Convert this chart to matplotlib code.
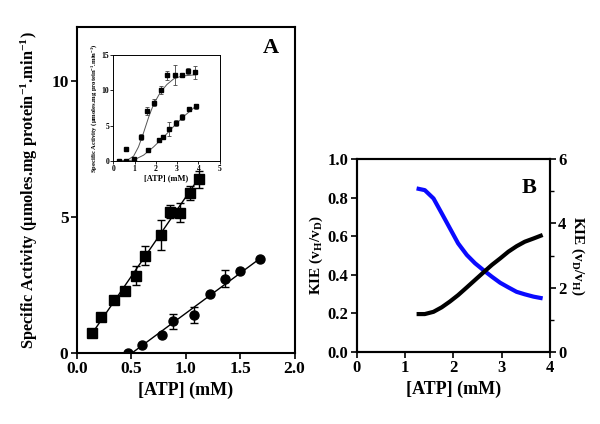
import matplotlib
matplotlib.use("Agg")
import matplotlib.pyplot as plt
import numpy as np

plt.rcParams['font.family'] = ['Liberation Serif', 'DejaVu Serif']
plt.rcParams['font.weight'] = 'bold'
plt.rcParams['mathtext.fontset'] = 'custom'
plt.rcParams['mathtext.rm'] = 'Liberation Serif:bold'
plt.rcParams['mathtext.bf'] = 'Liberation Serif:bold'
plt.rcParams['mathtext.it'] = 'Liberation Serif:bold'

# Panel A, main: squares
sq_x = [0.14, 0.22, 0.34, 0.44, 0.54, 0.63, 0.77, 0.86, 0.95, 1.04, 1.12]
sq_y = [0.74, 1.32, 1.96, 2.27, 2.84, 3.57, 4.35, 5.20, 5.17, 5.88, 6.39]
sq_err = [0, 0, 0, 0, 0.35, 0.35, 0.55, 0.25, 0.35, 0.25, 0.30]
sq_fit_x = [0.12, 1.14]
sq_fit_y = [0.60, 6.55]

# Panel A, main: circles
ci_x = [0.47, 0.60, 0.78, 0.88, 1.08, 1.22, 1.36, 1.50, 1.68]
ci_y = [0.00, 0.28, 0.67, 1.17, 1.39, 2.16, 2.74, 3.02, 3.47]
ci_err = [0, 0, 0, 0.28, 0.30, 0, 0.30, 0, 0]
ci_fit_x = [0.49, 1.68]
ci_fit_y = [-0.05, 3.47]

# Panel A, inset
in_sq_x = [0.25, 0.60, 0.60, 1.31, 1.59, 1.89, 2.22, 2.54, 2.92, 3.22, 3.53, 3.86]
in_sq_y = [0.0, 0.0, 1.64, 3.42, 7.03, 8.2, 10.0, 12.1, 12.1, 12.2, 12.7, 12.5]
in_sq_err = [0, 0, 0, 0.4, 0.6, 0.5, 0.6, 0.6, 1.4, 0, 0.4, 0.9]
in_sq_fit_x = [0.25, 0.63, 0.95, 1.18, 1.42, 1.66, 1.89, 2.21, 2.52, 2.84, 3.23, 3.63, 3.94]
in_sq_fit_y = [0.0, 0.09, 0.7, 2.0, 4.0, 6.2, 8.0, 9.7, 10.8, 11.6, 12.0, 12.1, 12.2]

in_ci_x = [0.95, 1.64, 2.16, 2.35, 2.60, 2.97, 3.23, 3.55, 3.90]
in_ci_y = [0.23, 1.55, 2.95, 3.37, 4.5, 5.4, 6.23, 7.3, 7.7]
in_ci_err = [0, 0, 0, 0, 1.0, 0.4, 0.4, 0, 0.4]
in_ci_fit_x = [0.25, 0.95, 1.42, 1.89, 2.37, 2.84, 3.31, 3.71, 3.94]
in_ci_fit_y = [0.0, 0.14, 0.84, 2.0, 3.4, 4.9, 6.3, 7.3, 7.9]

# Panel B
kie_x = [1.24, 1.41, 1.59, 1.76, 1.93, 2.10, 2.28, 2.45, 2.62, 2.80,
         2.97, 3.14, 3.31, 3.48, 3.66, 3.85]
kie_hd = [0.848, 0.839, 0.796, 0.719, 0.641, 0.563, 0.503, 0.460, 0.425, 0.390,
          0.359, 0.335, 0.312, 0.299, 0.287, 0.278]
kie_dh = [1.18, 1.18, 1.25, 1.39, 1.57, 1.77, 2.01, 2.24, 2.47, 2.71,
          2.91, 3.12, 3.29, 3.43, 3.53, 3.64]

fig = plt.figure(figsize=(6.0, 4.24), dpi=100)

# =========================================================================== #
ax = fig.add_axes([0.128, 0.1675, 0.363, 0.769])
ax.plot(sq_fit_x, sq_fit_y, color='black', lw=1.0)
ax.plot(ci_fit_x, ci_fit_y, color='black', lw=1.0)
ax.errorbar(sq_x, sq_y, yerr=sq_err, fmt='s', color='black', ms=6.5,
            capsize=3, elinewidth=1.0, capthick=1.0)
ax.errorbar(ci_x, ci_y, yerr=ci_err, fmt='o', color='black', ms=6.5,
            capsize=3, elinewidth=1.0, capthick=1.0)
ax.set_xlim(0, 2.0)
ax.set_ylim(0, 12)
ax.set_xticks([0.0, 0.5, 1.0, 1.5, 2.0])
ax.set_xticklabels(["0.0", "0.5", "1.0", "1.5", "2.0"])
ax.set_yticks([0, 5, 10])
ax.tick_params(labelsize=12.5, width=1.2, length=4, pad=2)
for s in ax.spines.values():
    s.set_linewidth(1.5)
ax.set_xlabel("[ATP] (mM)", fontsize=13, fontweight='bold', labelpad=3)
ax.set_ylabel(r"Specific Activity (µmoles.mg protein$^{-1}$.min$^{-1}$)",
              fontsize=11.8, fontweight='bold', labelpad=8)
ax.text(0.93, 0.935, "A", transform=ax.transAxes, fontsize=16,
        fontweight='bold', ha='right', va='center')

# inset
ins = fig.add_axes([0.189, 0.620, 0.177, 0.251])
ins.plot(in_sq_fit_x, in_sq_fit_y, color='#555555', lw=0.7)
ins.plot(in_ci_fit_x, in_ci_fit_y, color='#555555', lw=0.7)
ins.errorbar(in_sq_x, in_sq_y, yerr=in_sq_err, fmt='s', color='black', ms=2.8,
             capsize=1.5, elinewidth=0.6, capthick=0.6, ecolor='#444444')
ins.errorbar(in_ci_x, in_ci_y, yerr=in_ci_err, fmt='s', color='black', ms=2.3,
             capsize=1.5, elinewidth=0.6, capthick=0.6, ecolor='#444444')
ins.set_xlim(0, 5)
ins.set_ylim(0, 15)
ins.set_xticks(range(6))
ins.set_yticks([0, 5, 10, 15])
ins.tick_params(labelsize=5.5, width=0.6, length=2, pad=1)
for s in ins.spines.values():
    s.set_linewidth(0.7)
ins.set_xlabel("[ATP] (mM)", fontsize=6, fontweight='bold', labelpad=1)
ins.set_ylabel(r"Specific Activity (µmoles.mg protein$^{-1}$.min$^{-1}$)",
               fontsize=4.8, fontweight='bold', labelpad=2)

# =========================================================================== #
bx = fig.add_axes([0.5945, 0.1698, 0.322, 0.455])
bx.plot(kie_x, kie_hd, color='#0a0aff', lw=3.0, solid_capstyle='butt')
bx.set_xlim(0, 4)
bx.set_ylim(0, 1.0)
bx.set_xticks([0, 1, 2, 3, 4])
bx.set_yticks([0.0, 0.2, 0.4, 0.6, 0.8, 1.0])
bx.set_yticklabels(["0.0", "0.2", "0.4", "0.6", "0.8", "1.0"])
bx.tick_params(labelsize=12, width=1.2, length=4, pad=2)
bx.set_xlabel("[ATP] (mM)", fontsize=13, fontweight='bold', labelpad=3)
bx.set_ylabel(r"KIE (v$_{\mathbf{H}}$/v$_{\mathbf{D}}$)", fontsize=11,
              fontweight='bold', labelpad=2)
bx.text(0.93, 0.85, "B", transform=bx.transAxes, fontsize=16,
        fontweight='bold', ha='right', va='center')

bx2 = bx.twinx()
bx2.plot(kie_x, kie_dh, color='black', lw=3.0, solid_capstyle='butt')
bx2.set_ylim(0, 6)
bx2.set_yticks([0, 2, 4, 6])
bx2.set_yticks([1, 3, 5], minor=True)
bx2.tick_params(labelsize=12, width=1.2, length=4, pad=2)
bx2.tick_params(which='minor', width=1.0, length=3)
bx2.set_ylabel(r"KIE (v$_{\mathbf{D}}$/v$_{\mathbf{H}}$)", fontsize=11,
               fontweight='bold', rotation=270, labelpad=14)
for s in list(bx.spines.values()) + list(bx2.spines.values()):
    s.set_linewidth(1.5)

fig.savefig("out.png", dpi=100)
